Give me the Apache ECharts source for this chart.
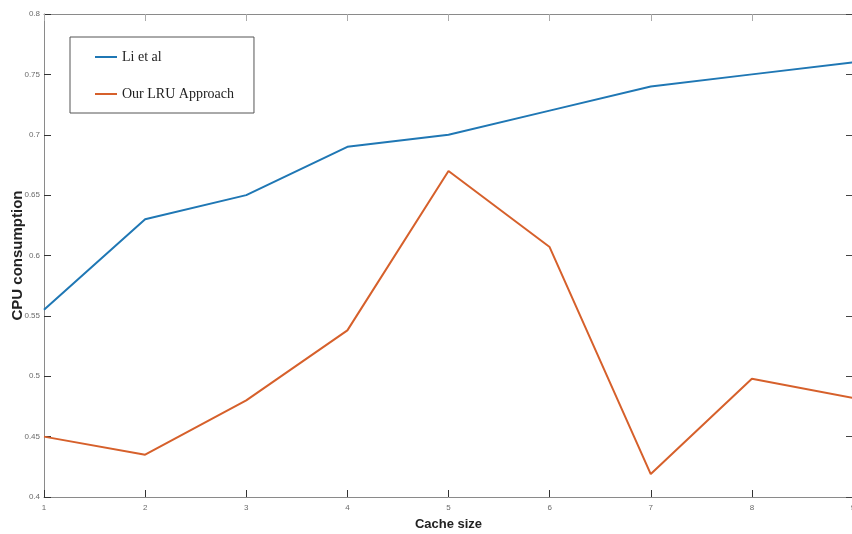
<!DOCTYPE html>
<html>
<head>
<meta charset="utf-8">
<script src="https://cdn.jsdelivr.net/npm/echarts@6/dist/echarts.min.js"></script>
<style>
  html, body { margin: 0; padding: 0; background: #fff; }
  #chart { width: 852px; height: 534px; }
</style>
</head>
<body>
<div id="chart"></div>
<script>
// Cache sizes on the x axis
const cacheSizes = [1, 2, 3, 4, 5, 6, 7, 8, 9];
// CPU consumption per cache size
const liEtAl = [0.555, 0.63, 0.65, 0.69, 0.70, 0.72, 0.74, 0.75, 0.76];
const ourLRU = [0.45, 0.435, 0.48, 0.538, 0.67, 0.607, 0.419, 0.498, 0.482];
const seriesNames = ['Li et al', 'Our LRU Approach'];
const seriesColors = ['#1f77b4', '#d6602b'];

const chart = echarts.init(document.getElementById('chart'));

const pairs = arr => cacheSizes.map((x, i) => [x, arr[i]]);

const axisGray = '#8a8a8a';
const labelStyle = { color: '#6a6a6a', fontSize: 8, fontFamily: 'Liberation Sans, Arial, sans-serif' };

chart.setOption({
  animation: false,
  grid: { left: 44, top: 14, width: 809, height: 483, containLabel: false, outerBoundsMode: 'none' },
  legend: {
    orient: 'vertical',
    left: 70,
    top: 37,
    padding: [13, 20, 12, 25],
    itemGap: 23,
    itemWidth: 22,
    itemHeight: 14,
    borderColor: '#555',
    borderWidth: 1,
    icon: 'path://M0,6L22,6L22,8L0,8Z',
    textStyle: { fontFamily: 'Liberation Serif, Times New Roman, serif', fontSize: 14, color: '#222' },
    data: seriesNames
  },
  xAxis: [
    {
      type: 'value', min: 1, max: 9, interval: 1,
      name: 'Cache size', nameLocation: 'middle', nameGap: 21,
      nameTextStyle: { fontFamily: 'Liberation Sans, Arial, sans-serif', fontWeight: 'bold', fontSize: 13, color: '#222' },
      axisLine: { lineStyle: { color: axisGray, width: 1 } },
      axisTick: { inside: true, length: 7, lineStyle: { color: '#333' } },
      axisLabel: Object.assign({ margin: 7 }, labelStyle),
      splitLine: { show: false }
    },
    {
      type: 'value', min: 1, max: 9, interval: 1, position: 'top',
      axisLine: { lineStyle: { color: axisGray, width: 1 } },
      axisTick: { inside: true, length: 7, lineStyle: { color: '#aaa' } },
      axisLabel: { show: false },
      splitLine: { show: false }
    }
  ],
  yAxis: [
    {
      type: 'value', min: 0.4, max: 0.8, interval: 0.05,
      name: 'CPU consumption', nameLocation: 'middle', nameGap: 19, nameRotate: 90,
      nameMoveOverlap: false,
      nameTextStyle: { fontFamily: 'Liberation Sans, Arial, sans-serif', fontWeight: 'bold', fontSize: 15, color: '#222' },
      axisLine: { show: true, lineStyle: { color: axisGray, width: 1 } },
      axisTick: { show: true, inside: true, length: 7, lineStyle: { color: '#333' } },
      axisLabel: Object.assign({ margin: 4, formatter: v => String(+v.toFixed(2)) }, labelStyle),
      splitLine: { show: false }
    },
    {
      type: 'value', min: 0.4, max: 0.8, interval: 0.05, position: 'right',
      axisLine: { show: true, lineStyle: { color: axisGray, width: 1 } },
      axisTick: { show: true, inside: true, length: 7, lineStyle: { color: '#444' } },
      axisLabel: { show: false },
      splitLine: { show: false }
    }
  ],
  series: [
    {
      name: seriesNames[0], type: 'line', data: pairs(liEtAl),
      symbol: 'none', color: seriesColors[0],
      lineStyle: { width: 2, color: seriesColors[0] }
    },
    {
      name: seriesNames[1], type: 'line', data: pairs(ourLRU),
      symbol: 'none', color: seriesColors[1],
      lineStyle: { width: 2, color: seriesColors[1] }
    }
  ]
});
</script>
</body>
</html>
